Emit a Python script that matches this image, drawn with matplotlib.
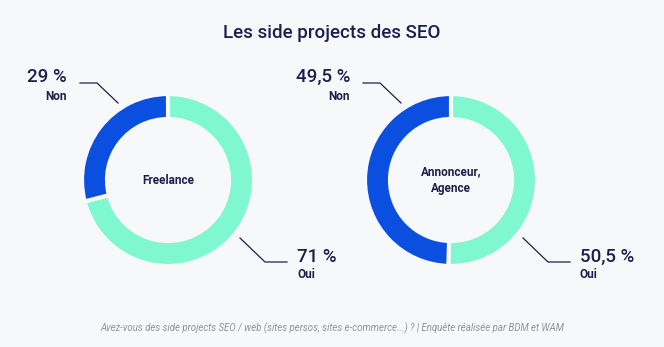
import matplotlib.pyplot as plt

# data
groups = ['Freelance', 'Annonceur,\nAgence']
oui = [71, 50.5]
non = [29, 49.5]
oui_lbl = ['71 %', '50,5 %']
non_lbl = ['29 %', '49,5 %']

W, H = 664, 347
bg = '#f7f8fa'
navy = '#1d1f4c'
blue = '#0a4fe0'
mint = '#7ff7cf'

plt.rcParams['font.family'] = ['Roboto', 'DejaVu Sans']

fig = plt.figure(figsize=(W/100, H/100), dpi=100)
fig.patch.set_facecolor(bg)
ax = fig.add_axes([0, 0, 1, 1])
ax.set_xlim(0, W)
ax.set_ylim(H, 0)
ax.axis('off')
ax.set_facecolor(bg)

# pie in normal y orientation -> second axes with same pixel frame
ax2 = fig.add_axes([0, 0, 1, 1])
ax2.patch.set_alpha(0)

centers = [(168, 180), (451, 180)]
R = 86
for (cx, cy), o, n, g in zip(centers, oui, non, groups):
    ax2.pie([o, n], colors=[mint, blue], startangle=90, counterclock=False,
            radius=R, center=(cx, H - cy), frame=True,
            wedgeprops=dict(width=25, edgecolor=bg, linewidth=3))
    ax.text(cx, cy, g, ha='center', va='center', fontsize=8.5,
            fontweight='bold', color=navy, linespacing=1.3)
ax2.set_xlim(0, W)
ax2.set_ylim(0, H)
ax2.set_aspect('auto')
ax2.axis('off')

ax.text(W/2, 33, 'Les side projects des SEO', ha='center', va='center',
        fontsize=13.5, fontweight='medium', color=navy)

non_x = [67, 350]
for i, (cx, cy) in enumerate(centers):
    dx = cx - 168
    # Non label, top-left
    ax.text(non_x[i], 77, non_lbl[i], ha='right', va='center', fontsize=13.5,
            fontweight='medium', color=navy)
    ax.text(non_x[i], 96, 'Non', ha='right', va='center', fontsize=8.5,
            fontweight='bold', color=navy)
    ax.plot([80 + dx, 97 + dx, 118 + dx], [83, 83, 103], color=navy, lw=0.9)
    # Oui label, bottom-right
    ax.text(297 + dx, 257, oui_lbl[i], ha='left', va='center', fontsize=13.5,
            fontweight='medium', color=navy)
    ax.text(297 + dx, 274, 'Oui', ha='left', va='center', fontsize=8.5,
            fontweight='bold', color=navy)
    ax.plot([240 + dx, 265 + dx, 287 + dx], [238, 262, 262], color=navy, lw=0.9)

ax.text(W/2, 328, 'Avez-vous des side projects SEO / web (sites persos, sites e-commerce...) ? | '
        'Enquête réalisée par BDM et WAM', ha='center', va='center', fontsize=6.9,
        style='italic', color='#8f929a')

fig.savefig('out.png', dpi=100, facecolor=bg)
